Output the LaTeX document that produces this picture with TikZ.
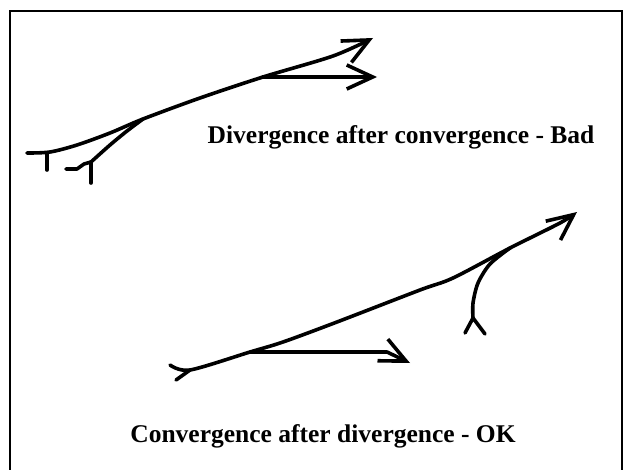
\documentclass[tikz,border=0pt]{standalone}
\usepackage{fontspec}
\setmainfont{Liberation Serif}
\usetikzlibrary{arrows.meta}

\begin{document}
\begin{tikzpicture}[x=1pt, y=-1pt, line cap=round, line join=round,
    every node/.style={font=\fontsize{25.5}{30}\selectfont\bfseries, inner sep=0pt},
    stroke/.style={line width=3.6pt},
    barbtip/.style={stroke, -{Straight Barb[length=26pt, width=24pt]}}]
    \useasboundingbox (0,0) rectangle (631,470);
    % frame, open at the bottom
    \draw[line width=2.2pt, line cap=butt, line join=miter] (10,470) -- (10,11) -- (622,11) -- (622,470);

    % top sketch: two tracks meet, then split again
    \coordinate (t1) at (27,153);
    \coordinate (t2) at (91,162);
    \coordinate (m1) at (143,119);
    \coordinate (s1) at (263,77);
    \coordinate (a1) at (373,38);
    \coordinate (a2) at (377,77);
    \draw[stroke] (47,153) -- (47,170);
    \draw[stroke] (t2) -- (91,183);
    \draw[barbtip] plot[smooth, tension=0.5] coordinates {(t1) (50,152) (77,145) (110,133) (m1) (200,98) (s1) (333,56) (a1)};
    \draw[stroke] (66,169) -- (77,169) -- (84,164) -- (t2);
    \draw[stroke] plot[smooth, tension=0.5] coordinates {(t2) (110,145) (127,131) (m1)};
    \draw[barbtip] (s1) -- (a2);
    \node[anchor=base] (bad) at (401,143.5) {Divergence after convergence - Bad};

    % bottom sketch: split first, join later
    \coordinate (t3) at (170,365);
    \coordinate (s2) at (250,352);
    \coordinate (m2) at (510,248);
    \coordinate (t4) at (473,318);
    \coordinate (a3) at (577,212);
    \coordinate (a4) at (410,363);
    \draw[stroke] (190,370) -- (176,380);
    \draw[barbtip] plot[smooth, tension=0.5] coordinates {(t3) (190,370) (s2) (283,342) (337,322) (420,290) (453,278) (m2) (560,223) (a3)};
    \draw[barbtip] (s2) -- (387,352) -- (a4);
    \draw[stroke] (465,333) -- (t4) -- (485,334);
    \draw[stroke] plot[smooth, tension=0.5] coordinates {(t4) (473,303) (478,283) (490,264) (m2)};
    \node[anchor=base] (ok) at (323,442) {Convergence after divergence - OK};
\end{tikzpicture}
\end{document}
